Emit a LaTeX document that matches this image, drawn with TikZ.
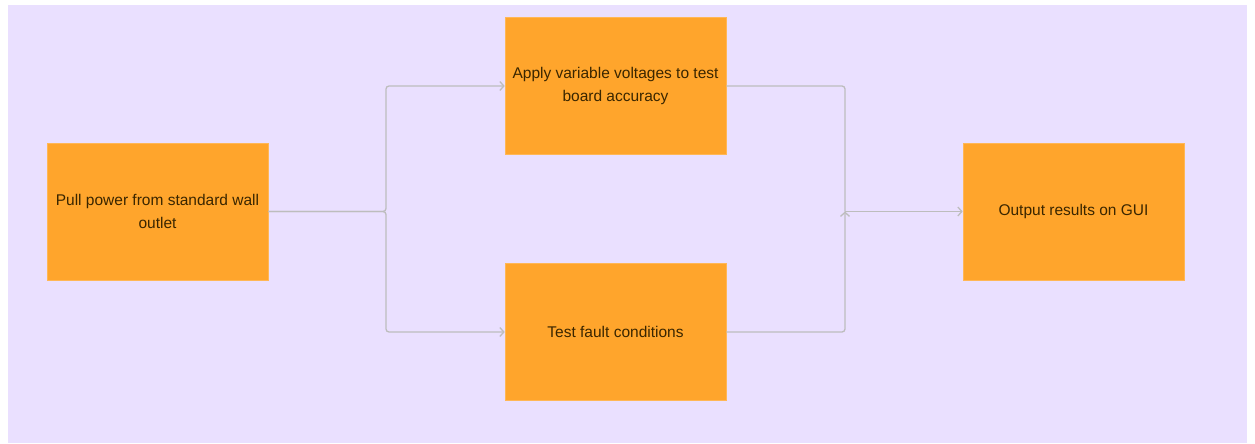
\documentclass[tikz,border=0pt]{standalone}
\usepackage{fontspec}
\setmainfont{Liberation Sans}
\usetikzlibrary{arrows.meta}
\definecolor{bgc}{HTML}{EAE0FF}
\definecolor{boxc}{HTML}{FFA52C}
\definecolor{txtc}{HTML}{3A2600}
\definecolor{linec}{HTML}{BDBDBD}
\tikzset{
  stepbox/.style={fill=boxc, draw=boxc!80!white, line width=0.6pt, minimum width=221pt, minimum height=137pt, inner sep=0pt, align=center, text=txtc, font=\fontsize{15.5}{23}\selectfont},
  conn/.style={draw=linec, line width=1.3pt, rounded corners=3pt},
  tip/.style={-{Straight Barb[length=4pt,width=9pt]}}
}
\begin{document}
\begin{tikzpicture}[x=1pt,y=-1pt]
\useasboundingbox (0,0) rectangle (1255,444);
\fill[white] (0,0) rectangle (1255,444);
\fill[bgc] (8,5) rectangle (1247,443);
\node[stepbox] (A) at (157.5,211.5) {Pull power from standard wall\\outlet};
\node[stepbox] (B) at (615.5,86) {Apply variable voltages to test\\board accuracy};
\node[stepbox] (C) at (615.5,332) {Test fault conditions};
\node[stepbox] (D) at (1073.5,211.5) {Output results on GUI};
\coordinate (s) at (386,211.5);
\coordinate (j) at (845,211.5);
\draw[conn,tip] (A.east) -- (s) |- (B.west);
\draw[conn,tip] (A.east) -- (s) |- (C.west);
\draw[conn] (B.east) -| (j);
\draw[conn,tip] (C.east) -| (j);
\draw[conn,tip] (j) -- (D.west);
\end{tikzpicture}
\end{document}
